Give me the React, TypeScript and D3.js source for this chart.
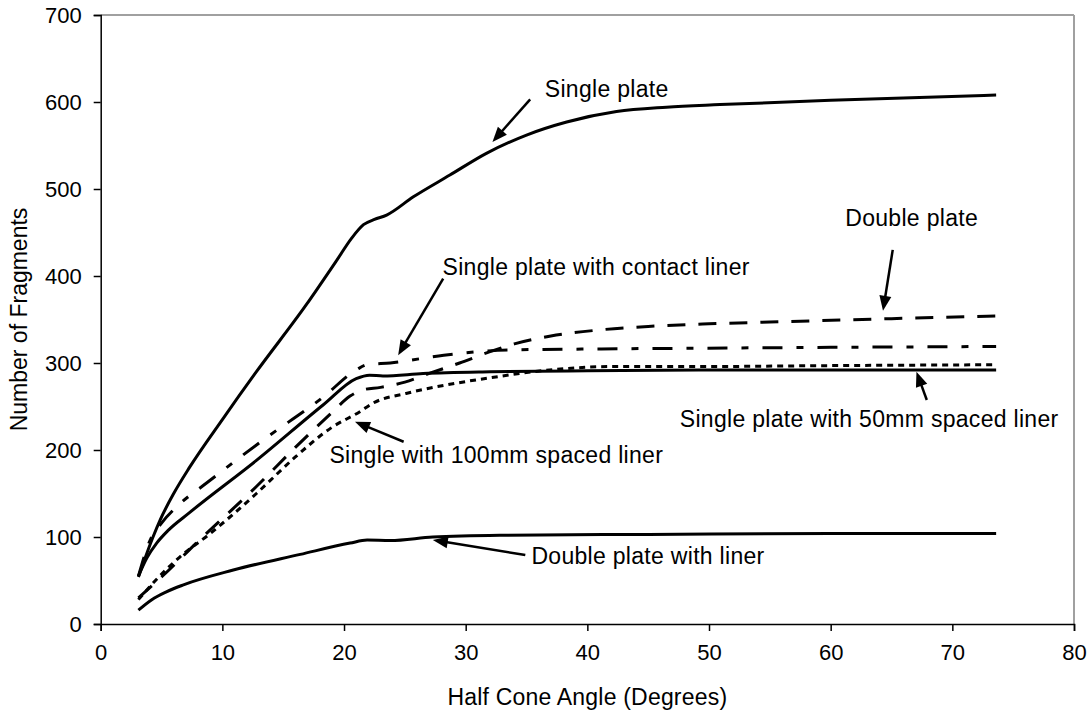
import { useEffect, useRef } from 'react'
import * as d3 from 'd3'

// x = half cone angle (deg), y = number of fragments
const SINGLE_X = [3.1, 4.3, 4.9, 6.0, 7.3, 10, 12.8, 16.9, 19.4, 20.6, 21.6, 22.5, 23.5, 25.7, 28.7, 31.7, 35.0, 38.3, 42.4, 46.5, 50.9, 60, 73.6]
const SINGLE_Y = [54, 100, 120, 150, 180, 235, 290, 367, 418, 443, 459, 465, 470, 491, 516, 541, 562, 577, 589, 594, 597, 602, 608]

const CONTACT_X = [3.1, 4.05, 5.0, 6.5, 8.7, 13.3, 18.3, 21.0, 21.9, 23.8, 28.2, 33.6, 39.7, 49.2, 60, 73.6]
const CONTACT_Y = [55, 96, 116, 138, 162, 211, 261, 292, 298, 300, 309, 315, 316, 317, 318, 319]

const SPACED50_X = [3.1, 3.8, 4.6, 5.5, 7.3, 12.8, 18.3, 21.0, 22.1, 23.2, 26.5, 32, 40, 49.2, 73.6]
const SPACED50_Y = [55, 76, 93, 107, 128, 188, 252, 282, 286, 285, 288, 290, 291, 292, 292]

const DOUBLE_X = [3.1, 5, 8, 12.8, 16, 19, 20.5, 21.5, 23, 25, 27, 29.5, 32, 34, 37, 41, 45, 50, 55, 65, 73.6]
const DOUBLE_Y = [30, 54, 95, 158, 203, 243, 262, 269, 272, 278, 288, 300, 313, 322, 331, 338, 342, 345, 347, 351, 354]

const SPACED100_X = [3.1, 4.5, 6.5, 9, 12.8, 16, 19, 21.3, 22.4, 25.1, 29.3, 32, 36.9, 42.4, 50, 60, 73.6]
const SPACED100_Y = [28, 50, 77, 104, 150, 192, 226, 244, 254, 265, 277, 283, 292, 296, 296, 297, 298]

const DOUBLE_LINER_X = [3.1, 4.2, 5.4, 6.8, 10.9, 16.4, 20.5, 21.9, 23.8, 27.3, 32.8, 45, 60, 73.6]
const DOUBLE_LINER_Y = [16, 28, 37, 45, 62, 80, 93, 96.5, 96, 100, 102, 103, 104, 104]

const SERIES = [
  { name: 'Single plate', xs: SINGLE_X, ys: SINGLE_Y, dash: null },
  { name: 'Single plate with contact liner', xs: CONTACT_X, ys: CONTACT_Y, dash: '20,14,7,14' },
  { name: 'Single plate with 50mm spaced liner', xs: SPACED50_X, ys: SPACED50_Y, dash: null },
  { name: 'Double plate', xs: DOUBLE_X, ys: DOUBLE_Y, dash: '18,13' },
  { name: 'Single with 100mm spaced liner', xs: SPACED100_X, ys: SPACED100_Y, dash: '6,5' },
  { name: 'Double plate with liner', xs: DOUBLE_LINER_X, ys: DOUBLE_LINER_Y, dash: null },
]

// annotation: label position and arrow (from -> tip), in data units
const LABELS = ['Single plate', 'Double plate', 'Single plate with contact liner', 'Single with 100mm spaced liner', 'Single plate with 50mm spaced liner', 'Double plate with liner']
const LABEL_X = [36.5, 61.2, 28.1, 18.8, 47.6, 35.4]
const LABEL_Y = [606, 457, 401, 185, 226, 69]
const ARROW_FROM = [[35.3, 603], [65.1, 430], [28.15, 397], [24.9, 209.5], [67.9, 257.5], [34.9, 79.3]]
const ARROW_TO = [[32.2, 554], [64.3, 360], [24.45, 309], [20.9, 232.5], [67.05, 290], [27.3, 96.6]]

const X_TICKS = [0, 10, 20, 30, 40, 50, 60, 70, 80]
const Y_TICKS = [0, 100, 200, 300, 400, 500, 600, 700]

const FONT = '"Liberation Sans", Arial, sans-serif'

export default function App() {
  const svgRef = useRef<SVGSVGElement>(null)

  useEffect(() => {
    if (!svgRef.current) return
    const svg = d3.select(svgRef.current)
    svg.selectAll('*').remove()

    const left = 100.7, right = 1074, top = 15, bottom = 624

    const x = d3.scaleLinear().domain([0, 80]).range([left, right])
    const y = d3.scaleLinear().domain([0, 700]).range([bottom, top])

    // frame: grey top/right
    svg.append('line')
      .attr('x1', left).attr('x2', right).attr('y1', top).attr('y2', top)
      .attr('stroke', '#a0a0a0').attr('stroke-width', 2)
    svg.append('line')
      .attr('x1', right).attr('x2', right).attr('y1', top).attr('y2', bottom)
      .attr('stroke', '#a0a0a0').attr('stroke-width', 2)

    // axes
    const xAxis = svg.append('g')
      .attr('transform', `translate(0,${bottom})`)
      .call(d3.axisBottom(x).tickValues(X_TICKS).tickSize(7).tickPadding(10).tickFormat(d3.format('d')))
    const yAxis = svg.append('g')
      .attr('transform', `translate(${left},0)`)
      .call(d3.axisLeft(y).tickValues(Y_TICKS).tickSize(7).tickPadding(12).tickFormat(d3.format('d')))

    ;[xAxis, yAxis].forEach((ax) => {
      ax.select('.domain').attr('stroke', '#000').attr('stroke-width', 1.5)
      ax.selectAll('.tick line').attr('stroke', '#000').attr('stroke-width', 1.5)
      ax.selectAll('text')
        .attr('font-family', FONT)
        .attr('font-size', 22)
        .attr('fill', '#000')
    })
    xAxis.selectAll('text').attr('dy', '0.85em')

    // axis titles
    svg.append('text')
      .attr('x', (left + right) / 2)
      .attr('y', 705)
      .attr('text-anchor', 'middle')
      .attr('font-family', FONT)
      .attr('font-size', 23)
      .attr('letter-spacing', 0.2)
      .attr('fill', '#000')
      .text('Half Cone Angle (Degrees)')

    svg.append('text')
      .attr('transform', `translate(27,${(top + bottom) / 2}) rotate(-90)`)
      .attr('text-anchor', 'middle')
      .attr('font-family', FONT)
      .attr('font-size', 23)
      .attr('fill', '#000')
      .text('Number of Fragments')

    // series
    const line = d3.line<[number, number]>()
      .x((d) => x(d[0]))
      .y((d) => y(d[1]))
      .curve(d3.curveMonotoneX)

    SERIES.forEach((s) => {
      const pts = s.xs.map((v, i) => [v, s.ys[i]] as [number, number])
      const p = svg.append('path')
        .attr('d', line(pts))
        .attr('fill', 'none')
        .attr('stroke', '#000')
        .attr('stroke-width', 3)
        .attr('stroke-linejoin', 'round')
      if (s.dash) p.attr('stroke-dasharray', s.dash)
    })

    // annotations
    LABELS.forEach((label, i) => {
      svg.append('text')
        .attr('x', x(LABEL_X[i]))
        .attr('y', y(LABEL_Y[i]))
        .attr('font-family', FONT)
        .attr('font-size', 23)
        .attr('letter-spacing', 0.3)
        .attr('fill', '#000')
        .text(label)

      const x1 = x(ARROW_FROM[i][0]), y1 = y(ARROW_FROM[i][1])
      const x2 = x(ARROW_TO[i][0]), y2 = y(ARROW_TO[i][1])
      const ang = Math.atan2(y2 - y1, x2 - x1)
      const len = 15, half = 6
      const bx = x2 - len * Math.cos(ang), by = y2 - len * Math.sin(ang)

      svg.append('line')
        .attr('x1', x1).attr('y1', y1)
        .attr('x2', bx + 2 * Math.cos(ang)).attr('y2', by + 2 * Math.sin(ang))
        .attr('stroke', '#000').attr('stroke-width', 2.5)

      svg.append('polygon')
        .attr('points', [
          [x2, y2],
          [bx + half * Math.sin(ang), by - half * Math.cos(ang)],
          [bx - half * Math.sin(ang), by + half * Math.cos(ang)],
        ].map((p) => p.join(',')).join(' '))
        .attr('fill', '#000')
    })
  }, [])

  return (
    <svg
      ref={svgRef}
      width={1090}
      height={711}
      style={{ position: 'absolute', left: 0, top: 0, background: '#fff' }}
    />
  )
}
